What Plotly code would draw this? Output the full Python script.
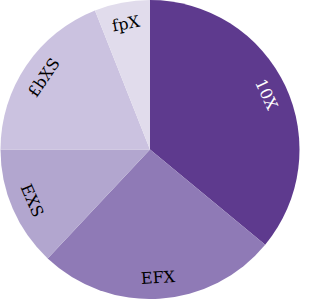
import math
import plotly.graph_objects as go

labels = ["10X", "EFX", "EXS", "£bXS", "fpX"]
values = [36, 26, 13, 19, 6]
colors = ["#5e3a8e", "#8f7ab6", "#b2a6cf", "#cbc2e0", "#e1dcec"]
text_colors = ["white", "black", "black", "black", "black"]

W, H = 310, 299
cx_px, cy_px, R = 150, 149.5, 149.5

fig = go.Figure(go.Pie(
    labels=labels,
    values=values,
    sort=False,
    direction="clockwise",
    rotation=0,
    marker=dict(colors=colors, line=dict(width=0)),
    textinfo="none",
    showlegend=False,
    domain=dict(x=[0, 300 / W], y=[0, 1]),
))

total = sum(values)
cum = 0
for lab, v, tc in zip(labels, values, text_colors):
    mid = (cum + v / 2) / total * 360
    cum += v
    th = math.radians(mid)
    r = 0.86 * R
    x = (cx_px + r * math.sin(th)) / W
    y = (cy_px + r * math.cos(th)) / H
    ang = mid if mid <= 90 else (mid - 180 if mid <= 270 else mid - 360)
    fig.add_annotation(
        x=x, y=y, xref="paper", yref="paper", text=lab, showarrow=False,
        textangle=ang, xanchor="center", yanchor="middle",
        font=dict(family="DejaVu Serif", size=16, color=tc),
    )

fig.update_layout(
    width=W, height=H,
    margin=dict(l=0, r=0, t=0, b=0),
    paper_bgcolor="white",
    plot_bgcolor="white",
)
fig.write_html("out.html")
